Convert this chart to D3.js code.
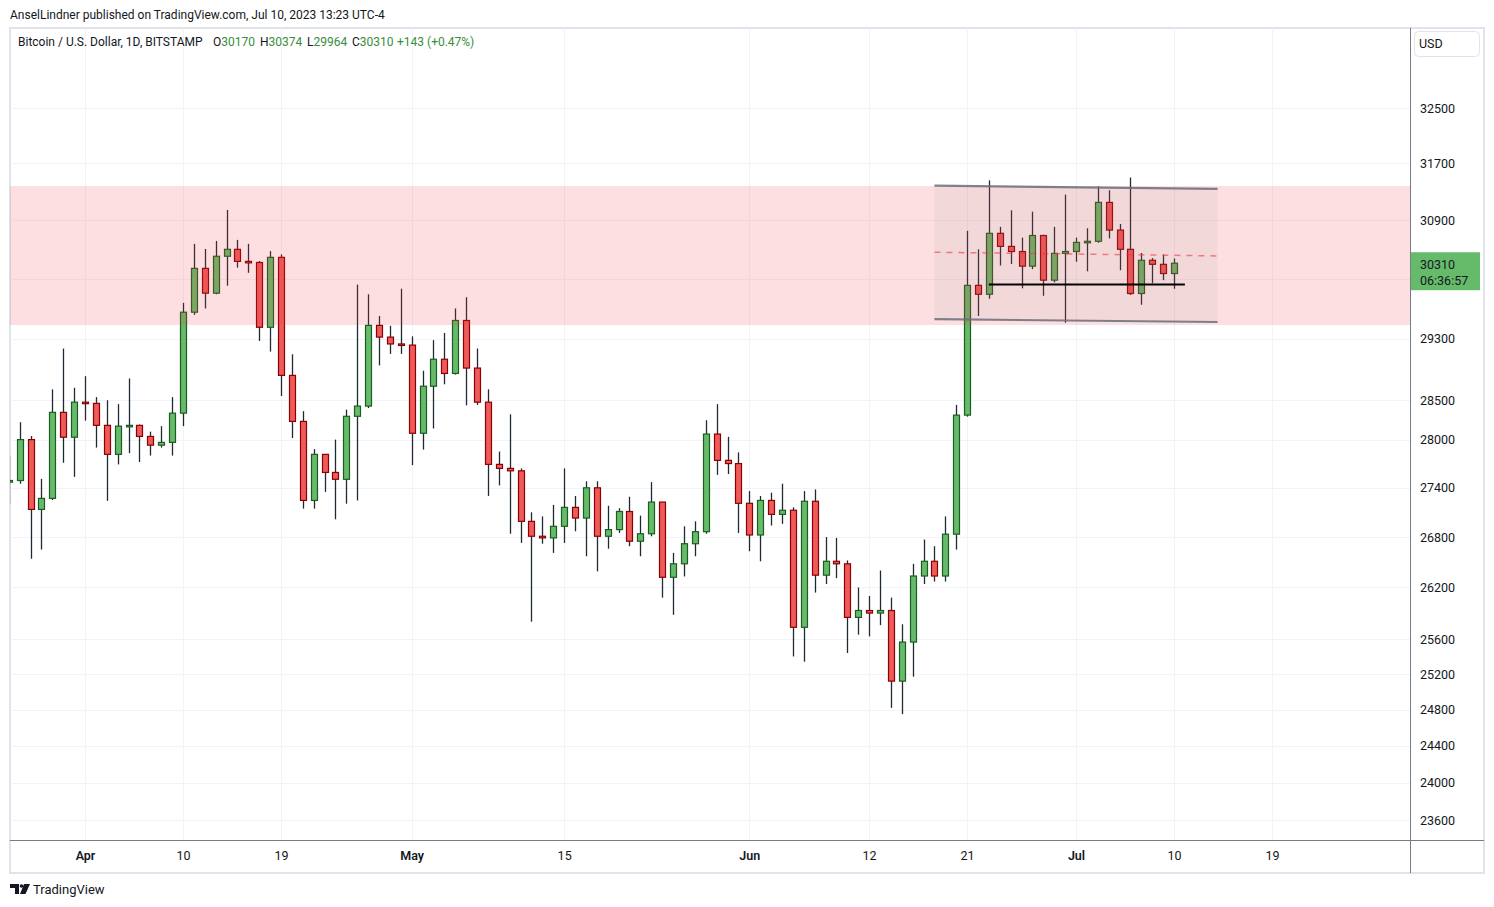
<!DOCTYPE html>
<html>
<head>
<meta charset="utf-8">
<script src="https://cdn.jsdelivr.net/npm/d3@7"></script>
<style>
  body { margin: 0; background: #fff; }
  text { font-family: Roboto, "Open Sans", sans-serif; }
</style>
</head>
<body>
<script>
// daily BTC/USD candles, Mar 25 -> Jul 10 2023 (Bitstamp, 1D)
const firstDay = "2023-03-25";
const lastDay = "2023-07-10";

const opens = [
  27470, 27490, 28000, 27135, 27270, 28345, 28030,
  28475, 28460, 28180, 27815, 28170, 28180, 28040, 27930, 27965, 28335,
  29650, 30240, 29905, 30405, 30500, 30335, 30320, 29450, 30390, 28820,
  28230, 27245, 27815, 27590, 27505, 28295, 28425, 29475, 29320, 29230,
  29215, 28080, 28680, 29030, 28845, 29540, 28915, 28475, 27690, 27640,
  27610, 26990, 26810, 26790, 26930, 27160, 27030, 27400, 26810, 26890,
  27110, 26750, 26840, 27225, 26320, 26480, 26720, 26865, 28070, 27740, 27700,
  27210, 26825, 27245, 27075, 27125, 25735, 27235, 26345, 26510, 26480,
  25850, 25930, 25900, 25930, 25120, 25565, 26335, 26510, 26335, 26835,
  28310, 30010, 29890, 30720, 30540, 30470, 30270, 30690, 30080, 30445,
  30470, 30595, 30610, 31150, 30765, 30500, 29900, 30350, 30295, 30170
];
const highs = [
  27800, 28220, 28045, 27510, 28640, 29170, 28660,
  28810, 28540, 28500, 28450, 28780, 28190, 28100, 28170, 28540, 29775,
  30575, 30505, 30615, 31045, 30630, 30575, 30340, 30475, 30430, 29095,
  28360, 27880, 27815, 28000, 28380, 30020, 29890, 29600, 29470, 29965,
  29330, 28880, 29280, 29375, 29700, 29850, 29170, 28640, 27850, 28320,
  27640, 27100, 27050, 27190, 27640, 27300, 27480, 27480, 27180, 27150,
  27290, 27060, 27470, 27225, 26610, 26930, 26990, 28245, 28450, 28035, 27840,
  27360, 27300, 27340, 27450, 27160, 27360, 27380, 26800, 26790, 26520,
  26200, 26100, 26400, 26080, 25770, 26480, 26770, 26690, 27050, 28440,
  30755, 30500, 31460, 30810, 31040, 30660, 31020, 30700, 30810, 31260,
  30660, 30790, 31375, 31320, 30850, 31500, 30450, 30380, 30430, 30374
];
const lows = [
  27200, 27450, 26540, 26650, 27250, 27710, 27535,
  28240, 27900, 27240, 27690, 27830, 27720, 27800, 27900, 27800, 28170,
  29615, 29700, 29890, 30005, 30250, 30180, 29270, 29130, 28555, 28020,
  27145, 27145, 27350, 27015, 27205, 27245, 28400, 28950, 29100, 29100,
  27680, 27875, 28140, 28705, 28830, 28435, 28440, 27300, 27430, 26840,
  26730, 25800, 26720, 26610, 26730, 26870, 26570, 26390, 26660, 26850,
  26690, 26570, 26810, 26080, 25880, 26330, 26570, 26840, 27560, 27570, 26850,
  26630, 26510, 26940, 26960, 25400, 25340, 26140, 26240, 26310, 25440,
  25650, 25630, 25760, 24820, 24750, 25170, 26240, 26270, 26270, 26650,
  28290, 29600, 29830, 30280, 30300, 29970, 30230, 29870, 30050, 29510,
  30330, 30200, 30590, 30650, 30215, 29880, 29750, 30040, 30080, 29964
];
const closes = [
  27490, 28000, 27135, 27270, 28345, 28030, 28475,
  28460, 28180, 27815, 28170, 28180, 28040, 27930, 27965, 28335, 29650,
  30240, 29905, 30405, 30500, 30335, 30320, 29450, 30390, 28820, 28230,
  27245, 27815, 27590, 27505, 28295, 28425, 29475, 29320, 29230, 29215,
  28080, 28680, 29030, 28845, 29540, 28915, 28475, 27690, 27640, 27610,
  26990, 26810, 26790, 26930, 27160, 27030, 27400, 26810, 26890, 27110,
  26750, 26840, 27225, 26320, 26480, 26720, 26865, 28070, 27740, 27700, 27210,
  26825, 27245, 27075, 27125, 25735, 27235, 26345, 26510, 26480, 25850,
  25930, 25900, 25930, 25120, 25565, 26335, 26510, 26335, 26835, 28310,
  30010, 29890, 30720, 30540, 30470, 30270, 30690, 30080, 30445, 30470,
  30595, 30610, 31150, 30765, 30500, 29900, 30350, 30295, 30170, 30310
];

const priceTicks = [32500, 31700, 30900, 29300, 28500, 28000, 27400, 26800, 26200, 25600, 25200, 24800, 24400, 24000, 23600];
const gridPrices = [32500, 31700, 30900, 30100, 29300, 28500, 28000, 27400, 26800, 26200, 25600, 25200, 24800, 24400, 24000, 23600];
const timeTicks = ["2023-04-01", "2023-04-10", "2023-04-19", "2023-05-01", "2023-05-15", "2023-06-01", "2023-06-12", "2023-06-21", "2023-07-01", "2023-07-10", "2023-07-19"];
const timeLabels = ["Apr", "10", "19", "May", "15", "Jun", "12", "21", "Jul", "10", "19"];

// drawings
const zonePrices = [29480, 31380];
const channelDays = ["2023-06-18", "2023-07-14"];
const channelTop = [31385, 31340];
const channelBottom = [29557, 29520];
const channelMid = [30460, 30410];
const supportDays = ["2023-06-23", "2023-07-11"];
const supportPrice = 30020;

const lastPrice = 30310;
const countdown = "06:36:57";

const W = 1494, H = 907;
const plot = { left: 10, right: 1410, top: 28, bottom: 840 };

const parse = d3.utcParse("%Y-%m-%d");
const days = d3.utcDay.range(parse(firstDay), d3.utcDay.offset(parse(lastDay), 1));
const candles = days.map((d, i) => ({ date: d, o: opens[i], h: highs[i], l: lows[i], c: closes[i] }));

const x = d3.scaleUtc()
  .domain([parse("2023-04-01"), parse("2023-07-19")])
  .range([85, 1272]);
const y = d3.scaleLog()
  .domain([23600, 32500])
  .range([820, 108]);

const svg = d3.create("svg")
  .attr("width", W)
  .attr("height", H)
  .attr("viewBox", [0, 0, W, H]);
document.body.appendChild(svg.node());

svg.append("rect").attr("width", W).attr("height", H).attr("fill", "#fff");

svg.append("text")
  .attr("x", 10).attr("y", 19)
  .attr("font-size", 12).attr("fill", "#131722")
  .text("AnselLindner published on TradingView.com, Jul 10, 2023 13:23 UTC-4");

// outer frame
svg.append("rect")
  .attr("x", 10).attr("y", 28)
  .attr("width", 1474).attr("height", 845)
  .attr("fill", "none")
  .attr("stroke", "#e0e3eb").attr("stroke-width", 2);

svg.append("defs").append("clipPath").attr("id", "plotclip")
  .append("rect")
  .attr("x", plot.left).attr("y", plot.top)
  .attr("width", plot.right - plot.left).attr("height", plot.bottom - plot.top);

// grid
const grid = svg.append("g").attr("stroke", "#f0f3fa").attr("stroke-width", 1);
grid.selectAll(".hg").data(gridPrices).join("line")
  .attr("x1", plot.left).attr("x2", plot.right)
  .attr("y1", d => Math.round(y(d)) + 0.5).attr("y2", d => Math.round(y(d)) + 0.5);
grid.selectAll(".vg").data(timeTicks).join("line")
  .attr("x1", d => Math.round(x(parse(d))) + 0.5).attr("x2", d => Math.round(x(parse(d))) + 0.5)
  .attr("y1", plot.top).attr("y2", plot.bottom);

const chart = svg.append("g").attr("clip-path", "url(#plotclip)");

// candles
const bodyW = 6;
const cg = chart.append("g");
const c = cg.selectAll("g").data(candles).join("g")
  .attr("transform", d => `translate(${Math.round(x(d.date)) + 0.5},0)`);
c.append("line")
  .attr("y1", d => y(d.h)).attr("y2", d => y(d.l))
  .attr("stroke", "#1e2a33").attr("stroke-width", 1.3);
c.append("rect")
  .attr("x", -bodyW / 2)
  .attr("y", d => y(Math.max(d.o, d.c)))
  .attr("width", bodyW)
  .attr("height", d => Math.max(1.5, y(Math.min(d.o, d.c)) - y(Math.max(d.o, d.c))))
  .attr("fill", d => d.c >= d.o ? "#66bb6a" : "#ef5a5a")
  .attr("stroke", d => d.c >= d.o ? "#1b5e20" : "#8b0000")
  .attr("stroke-width", 1.2);

// resistance zone
chart.append("rect")
  .attr("x", plot.left).attr("width", plot.right - plot.left)
  .attr("y", y(zonePrices[1]))
  .attr("height", y(zonePrices[0]) - y(zonePrices[1]))
  .attr("fill", "rgba(242, 54, 69, 0.16)");

// parallel channel
const cx0 = x(parse(channelDays[0])), cx1 = x(parse(channelDays[1]));
chart.append("path")
  .attr("d", `M${cx0},${y(channelTop[0])}L${cx1},${y(channelTop[1])}L${cx1},${y(channelBottom[1])}L${cx0},${y(channelBottom[0])}Z`)
  .attr("fill", "rgba(120, 123, 134, 0.07)");
[channelTop, channelBottom].forEach(p => {
  chart.append("line")
    .attr("x1", cx0).attr("x2", cx1)
    .attr("y1", y(p[0])).attr("y2", y(p[1]))
    .attr("stroke", "#6a6d78").attr("stroke-opacity", 0.85).attr("stroke-width", 2.2);
});
chart.append("line")
  .attr("x1", cx0).attr("x2", cx1)
  .attr("y1", y(channelMid[0])).attr("y2", y(channelMid[1]))
  .attr("stroke", "#f23645").attr("stroke-opacity", 0.6)
  .attr("stroke-width", 1.5).attr("stroke-dasharray", "6 6");

// support line
chart.append("line")
  .attr("x1", x(parse(supportDays[0]))).attr("x2", x(parse(supportDays[1])))
  .attr("y1", y(supportPrice)).attr("y2", y(supportPrice))
  .attr("stroke", "#000").attr("stroke-width", 2);

// legend line
const leg = svg.append("text").attr("y", 46).attr("font-size", 12).attr("fill", "#131722");
leg.append("tspan").attr("x", 18).text("Bitcoin / U.S. Dollar, 1D, BITSTAMP");
const ohlc = [["O", opens[opens.length - 1], 213], ["H", highs[highs.length - 1], 260], ["L", lows[lows.length - 1], 307], ["C", closes[closes.length - 1], 352]];
ohlc.forEach(([k, v, px]) => {
  leg.append("tspan").attr("x", px).attr("fill", "#131722").text(k);
  leg.append("tspan").attr("fill", "#388e3c").text(v);
});
leg.append("tspan").attr("x", 397).attr("fill", "#388e3c").text("+143 (+0.47%)");

// axes lines
svg.append("line")
  .attr("x1", plot.left).attr("x2", 1484)
  .attr("y1", plot.bottom + 0.5).attr("y2", plot.bottom + 0.5)
  .attr("stroke", "#787b86").attr("stroke-width", 1);
svg.append("line")
  .attr("x1", plot.right + 0.5).attr("x2", plot.right + 0.5)
  .attr("y1", plot.top).attr("y2", 873)
  .attr("stroke", "#787b86").attr("stroke-width", 1);

// price axis
const yAxis = svg.append("g")
  .attr("transform", `translate(${plot.right},0)`)
  .call(d3.axisRight(y).tickValues(priceTicks).tickFormat(d3.format("d")).tickSize(0).tickPadding(10));
yAxis.select(".domain").remove();
yAxis.selectAll("text").attr("font-size", 12.5).attr("fill", "#131722")
  .style("font-family", "Roboto, sans-serif");

// time axis
const xAxis = svg.append("g")
  .attr("transform", `translate(0,${plot.bottom})`)
  .call(d3.axisBottom(x).tickValues(timeTicks.map(parse)).tickFormat((d, i) => timeLabels[i]).tickSize(0).tickPadding(11));
xAxis.select(".domain").remove();
xAxis.selectAll("text").attr("font-size", 12.5).attr("fill", "#131722")
  .style("font-family", "Roboto, sans-serif")
  .attr("font-weight", (d, i) => isNaN(+timeLabels[i]) ? 600 : 400);

// currency box
svg.append("rect")
  .attr("x", 1414.5).attr("y", 31.5).attr("width", 65).attr("height", 25).attr("rx", 4)
  .attr("fill", "#fff").attr("stroke", "#e0e3eb");
svg.append("text")
  .attr("x", 1419).attr("y", 48).attr("font-size", 12.5).attr("fill", "#131722")
  .text("USD");

// last price label
const ly = y(lastPrice);
svg.append("rect")
  .attr("x", 1411).attr("y", ly - 11).attr("width", 69).attr("height", 38)
  .attr("fill", "#66bb6a");
svg.append("text")
  .attr("x", 1420).attr("y", ly + 5.5).attr("font-size", 12.5).attr("fill", "#131722")
  .text(lastPrice);
svg.append("text")
  .attr("x", 1420).attr("y", ly + 21.5).attr("font-size", 12.5).attr("fill", "#131722")
  .text(countdown);

// footer logo
const logo = svg.append("g").attr("fill", "#131722");
logo.append("path").attr("d", "M10 884 h9 v10 h-4 v-6 h-5 z");
logo.append("circle").attr("cx", 21.5).attr("cy", 886).attr("r", 1.8);
logo.append("path").attr("d", "M24 884 h6 l-4.5 10 h-5.5 z");
svg.append("text")
  .attr("x", 33).attr("y", 893.5).attr("font-size", 13).attr("fill", "#131722")
  .text("TradingView");
</script>
</body>
</html>
